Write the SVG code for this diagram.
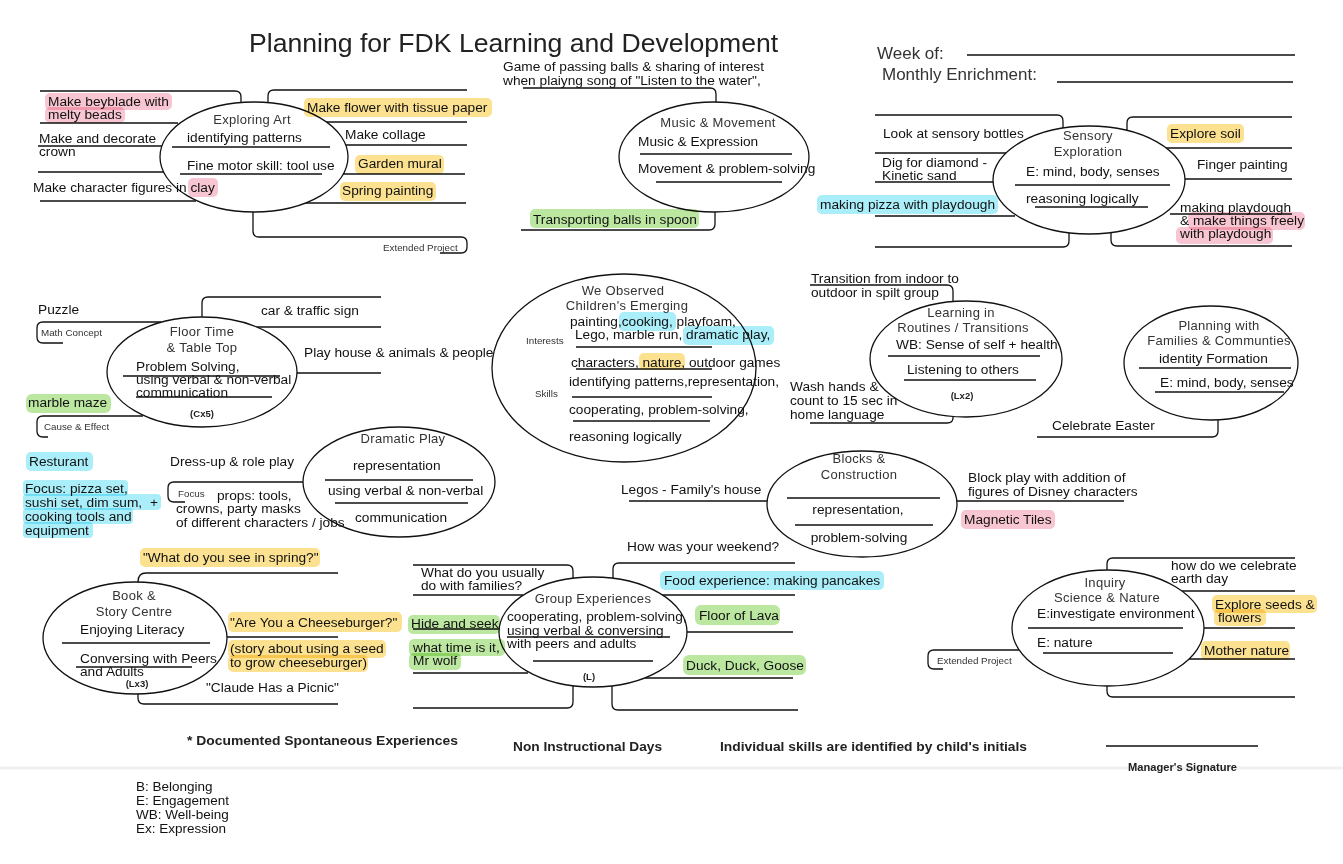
<svg xmlns="http://www.w3.org/2000/svg" width="1343" height="864" viewBox="0 0 1343 864">
<style>
text{font-family:"Liberation Sans",Arial,sans-serif}
.t{font-size:13.7px;fill:#111}
.h{font-size:13px;fill:#333;letter-spacing:0.3px;text-anchor:middle}
.s{font-size:9.8px;fill:#333}
.b{font-size:9.5px;font-weight:bold;fill:#222;text-anchor:middle}
.f{font-size:13px;font-weight:bold;fill:#222}
.c path,.ul{fill:none;stroke:#111;stroke-width:1.3}
.n ellipse{fill:#fff;stroke:#111;stroke-width:1.3}
.hp,.hy,.hb,.hg{mix-blend-mode:multiply}
.hp{fill:#f8c6d2}.hy{fill:#fbe190}.hb{fill:#aaeefa}.hg{fill:#bce7a0}
</style>
<rect width="1343" height="864" fill="#fff"/>

<g id="header">
<text x="249" y="52" style="font-size:26.6px;fill:#222">Planning for FDK Learning and Development</text>
<text x="877" y="59" style="font-size:17px;fill:#333">Week of:</text>
<text x="882" y="80" style="font-size:17px;fill:#333">Monthly Enrichment:</text>
<path class="ul" d="M967,55H1295M1057,82H1293"/>
</g>

<g id="connectors" class="c">
<path d="M40,91H235Q241,91 241,97V103"/>
<path d="M40,123H178M38,146H163M38,172H164M40,201H196"/>
<path d="M268,103V96Q268,90 274,90H467"/>
<path d="M326,122H467M346,145H467M343,174H465M305,203H466"/>
<path d="M253,212V231Q253,237 259,237H461Q467,237 467,243V247Q467,253 461,253H440"/>
<path d="M523,88H710Q716,88 716,94V102"/>
<path d="M715,212V224Q715,230 709,230H521"/>
<path d="M875,115H1057Q1063,115 1063,121V128"/>
<path d="M875,153H1006M875,182H993M875,216H1015"/>
<path d="M875,247H1063Q1069,247 1069,241V233"/>
<path d="M1127,130V123Q1127,117 1133,117H1292"/>
<path d="M1164,148H1292M1185,179H1292M1170,214H1292"/>
<path d="M1111,233V240Q1111,246 1117,246H1292"/>
<path d="M202,317V303Q202,297 208,297H381"/>
<path d="M254,327H381M297,373H381"/>
<path d="M161,322H43Q37,322 37,328V337Q37,343 43,343H63"/>
<path d="M143,416H43Q37,416 37,422V431Q37,437 43,437H48"/>
<path d="M305,482H174Q168,482 168,488V496Q168,502 174,502H185"/>
<path d="M810,285H947Q953,285 953,291V302"/>
<path d="M810,423H947Q953,423 953,418V416"/>
<path d="M1037,437H1212Q1218,437 1218,431V419"/>
<path d="M629,501H767M957,501H1124"/>
<path d="M413,565H567Q573,565 573,571V579"/>
<path d="M413,595H523M413,629H500M413,673H528"/>
<path d="M413,708H567Q573,708 573,702V686"/>
<path d="M613,579V569Q613,563 619,563H795"/>
<path d="M662,595H795M687,632H793M645,678H793"/>
<path d="M612,686V704Q612,710 618,710H798"/>
<path d="M138,582Q138,573 146,573H338"/>
<path d="M225,637H338"/>
<path d="M138,694V698Q138,704 144,704H338"/>
<path d="M1107,570V564Q1107,558 1113,558H1295"/>
<path d="M1180,591H1295M1203,628H1295M1189,659H1295"/>
<path d="M1107,686V691Q1107,697 1113,697H1295"/>
<path d="M1019,650H934Q928,650 928,656V663Q928,669 934,669H943"/>
</g>

<g id="node-exploring-art" class="n">
<ellipse cx="254" cy="157" rx="94" ry="55"/>
<text class="h" x="252" y="124">Exploring Art</text>
<text class="t" x="187" y="142">identifying patterns</text>
<path class="ul" d="M172,147H330"/>
<text class="t" x="187" y="170">Fine motor skill: tool use</text>
<path class="ul" d="M180,174H322"/>
<rect class="hp" x="45" y="93" width="127" height="17" rx="5"/>
<rect class="hp" x="45" y="107" width="80" height="16" rx="5"/>
<text class="t" x="48" y="106">Make beyblade with</text>
<text class="t" x="48" y="119">melty beads</text>
<text class="t" x="39" y="143">Make and decorate</text>
<text class="t" x="39" y="156">crown</text>
<rect class="hp" x="188" y="178" width="30" height="19" rx="5"/>
<text class="t" x="33" y="192">Make character figures in clay</text>
<rect class="hy" x="304" y="98" width="188" height="19" rx="5"/>
<text class="t" x="307" y="112">Make flower with tissue paper</text>
<text class="t" x="345" y="139">Make collage</text>
<rect class="hy" x="355" y="155" width="89" height="19" rx="5"/>
<text class="t" x="358" y="168">Garden mural</text>
<rect class="hy" x="340" y="182" width="96" height="19" rx="5"/>
<text class="t" x="342" y="195">Spring painting</text>
<text class="s" x="383" y="251">Extended Project</text>
</g>

<g id="node-music-movement" class="n">
<ellipse cx="714" cy="157" rx="95" ry="55"/>
<text class="h" x="718" y="127">Music &amp; Movement</text>
<text class="t" x="638" y="146">Music &amp; Expression</text>
<path class="ul" d="M640,154H792"/>
<text class="t" x="638" y="173">Movement &amp; problem-solving</text>
<path class="ul" d="M656,182H782"/>
<text class="t" x="503" y="71">Game of passing balls &amp; sharing of interest</text>
<text class="t" x="503" y="85">when plaiyng song of "Listen to the water",</text>
<rect class="hg" x="530" y="209" width="169" height="19" rx="5"/>
<text class="t" x="533" y="224">Transporting balls in spoon</text>
</g>

<g id="node-sensory" class="n">
<ellipse cx="1089" cy="180" rx="96" ry="54"/>
<text class="h" x="1088" y="140">Sensory</text>
<text class="h" x="1088" y="156">Exploration</text>
<text class="t" x="1026" y="176">E: mind, body, senses</text>
<path class="ul" d="M1015,185H1170"/>
<text class="t" x="1026" y="203">reasoning logically</text>
<path class="ul" d="M1035,207H1148"/>
<text class="t" x="883" y="138">Look at sensory bottles</text>
<text class="t" x="882" y="167">Dig for diamond -</text>
<text class="t" x="882" y="180">Kinetic sand</text>
<rect class="hb" x="817" y="195" width="181" height="19" rx="5"/>
<text class="t" x="820" y="209">making pizza with playdough</text>
<rect class="hy" x="1167" y="124" width="77" height="19" rx="5"/>
<text class="t" x="1170" y="138">Explore soil</text>
<text class="t" x="1197" y="169">Finger painting</text>
<rect class="hp" x="1188" y="212" width="117" height="18" rx="5"/>
<rect class="hp" x="1176" y="227" width="97" height="17" rx="5"/>
<text class="t" x="1180" y="212">making playdough</text>
<text class="t" x="1180" y="225">&amp; make things freely</text>
<text class="t" x="1180" y="238">with playdough</text>
</g>

<g id="node-floor-time" class="n">
<ellipse cx="202" cy="372" rx="95" ry="55"/>
<text class="h" x="202" y="336">Floor Time</text>
<text class="h" x="202" y="352">&amp; Table Top</text>
<text class="t" x="136" y="371">Problem Solving,</text>
<text class="t" x="136" y="384">using verbal &amp; non-verbal</text>
<text class="t" x="136" y="397">communication</text>
<path class="ul" d="M123,376H280M136,397H272"/>
<text class="b" x="202" y="417">(Cx5)</text>
<text class="t" x="261" y="315">car &amp; traffic sign</text>
<text class="t" x="304" y="357">Play house &amp; animals &amp; people</text>
<text class="t" x="38" y="314">Puzzle</text>
<text class="s" x="41" y="336">Math Concept</text>
<rect class="hg" x="26" y="394" width="85" height="19" rx="6"/>
<text class="t" x="28" y="407">marble maze</text>
<text class="s" x="44" y="430">Cause &amp; Effect</text>
</g>

<g id="node-dramatic-play" class="n">
<ellipse cx="399" cy="482" rx="96" ry="55"/>
<text class="h" x="403" y="443">Dramatic Play</text>
<text class="t" x="353" y="470">representation</text>
<path class="ul" d="M325,480H473"/>
<text class="t" x="328" y="495">using verbal &amp; non-verbal</text>
<path class="ul" d="M335,503H468"/>
<text class="t" x="355" y="522">communication</text>
<text class="t" x="170" y="466">Dress-up &amp; role play</text>
<text class="s" x="178" y="497">Focus</text>
<text class="t" x="217" y="500">props: tools,</text>
<text class="t" x="176" y="513">crowns, party masks</text>
<text class="t" x="176" y="527">of different characters / jobs</text>
<rect class="hb" x="26" y="452" width="67" height="19" rx="5"/>
<text class="t" x="29" y="466">Resturant</text>
<rect class="hb" x="23" y="480" width="105" height="16" rx="4"/>
<rect class="hb" x="23" y="494" width="138" height="16" rx="4"/>
<rect class="hb" x="23" y="508" width="110" height="16" rx="4"/>
<rect class="hb" x="23" y="522" width="70" height="16" rx="4"/>
<text class="t" x="25" y="493">Focus: pizza set,</text>
<text class="t" x="25" y="507">sushi set, dim sum,<tspan x="150">+</tspan></text>
<text class="t" x="25" y="521">cooking tools and</text>
<text class="t" x="25" y="535">equipment</text>
</g>

<g id="node-we-observed" class="n">
<ellipse cx="624" cy="368" rx="132" ry="94"/>
<text class="h" x="623" y="295">We Observed</text>
<text class="h" x="627" y="310">Children's Emerging</text>
<text class="s" x="526" y="344">Interests</text>
<text class="s" x="535" y="397">Skills</text>
<rect class="hb" x="619" y="312" width="57" height="19" rx="5"/>
<text class="t" x="570" y="326">painting,cooking, playfoam,</text>
<rect class="hb" x="683" y="326" width="91" height="19" rx="5"/>
<text class="t" x="575" y="339">Lego, marble run, dramatic play,</text>
<path class="ul" d="M576,347H712"/>
<rect class="hy" x="639" y="353" width="46" height="17" rx="5"/>
<text class="t" x="571" y="367">characters, nature, outdoor games</text>
<path class="ul" d="M576,369H712"/>
<text class="t" x="569" y="386">identifying patterns,representation,</text>
<path class="ul" d="M572,397H712"/>
<text class="t" x="569" y="414">cooperating, problem-solving,</text>
<path class="ul" d="M573,421H710"/>
<text class="t" x="569" y="441">reasoning logically</text>
</g>

<g id="node-routines" class="n">
<ellipse cx="966" cy="359" rx="96" ry="58"/>
<text class="h" x="961" y="317">Learning in</text>
<text class="h" x="963" y="332">Routines / Transitions</text>
<text class="t" x="896" y="349">WB: Sense of self + health</text>
<path class="ul" d="M888,356H1040"/>
<text class="t" x="907" y="374">Listening to others</text>
<path class="ul" d="M904,380H1036"/>
<text class="b" x="962" y="399">(Lx2)</text>
<text class="t" x="811" y="283">Transition from indoor to</text>
<text class="t" x="811" y="297">outdoor in spilt group</text>
<text class="t" x="790" y="391">Wash hands &amp;</text>
<text class="t" x="790" y="405">count to 15 sec in</text>
<text class="t" x="790" y="419">home language</text>
</g>

<g id="node-families" class="n">
<ellipse cx="1211" cy="363" rx="87" ry="57"/>
<text class="h" x="1219" y="330">Planning with</text>
<text class="h" x="1219" y="345">Families &amp; Communties</text>
<text class="t" x="1159" y="363">identity Formation</text>
<path class="ul" d="M1139,368H1291"/>
<text class="t" x="1160" y="387">E: mind, body, senses</text>
<path class="ul" d="M1155,392H1284"/>
<text class="t" x="1052" y="430">Celebrate Easter</text>
</g>

<g id="node-blocks" class="n">
<ellipse cx="862" cy="504" rx="95" ry="53"/>
<text class="h" x="859" y="463">Blocks &amp;</text>
<text class="h" x="859" y="479">Construction</text>
<path class="ul" d="M787,498H940"/>
<text class="t" x="858" y="514" text-anchor="middle">representation,</text>
<path class="ul" d="M795,525H933"/>
<text class="t" x="859" y="542" text-anchor="middle">problem-solving</text>
<text class="t" x="621" y="494">Legos - Family's house</text>
<text class="t" x="968" y="482">Block play with addition of</text>
<text class="t" x="968" y="496">figures of Disney characters</text>
<rect class="hp" x="961" y="510" width="94" height="19" rx="5"/>
<text class="t" x="964" y="524">Magnetic Tiles</text>
</g>

<g id="node-group-experiences" class="n">
<ellipse cx="593" cy="632" rx="94" ry="55"/>
<text class="h" x="593" y="603">Group Experiences</text>
<text class="t" x="507" y="621">cooperating, problem-solving,</text>
<text class="t" x="507" y="635">using verbal &amp; conversing</text>
<text class="t" x="507" y="648">with peers and adults</text>
<path class="ul" d="M507,637H670M533,661H653"/>
<text class="b" x="589" y="680">(L)</text>
<text class="t" x="421" y="577">What do you usually</text>
<text class="t" x="421" y="590">do with families?</text>
<rect class="hg" x="408" y="615" width="92" height="19" rx="5"/>
<text class="t" x="411" y="628">Hide and seek</text>
<rect class="hg" x="409" y="639" width="96" height="17" rx="5"/>
<rect class="hg" x="409" y="653" width="52" height="17" rx="5"/>
<text class="t" x="413" y="652">what time is it,</text>
<text class="t" x="413" y="665">Mr wolf</text>
<text class="t" x="627" y="551">How was your weekend?</text>
<rect class="hb" x="660" y="571" width="224" height="19" rx="5"/>
<text class="t" x="664" y="585">Food experience: making pancakes</text>
<rect class="hg" x="695" y="605" width="85" height="20" rx="6"/>
<text class="t" x="699" y="620">Floor of Lava</text>
<rect class="hg" x="683" y="655" width="123" height="20" rx="6"/>
<text class="t" x="686" y="670">Duck, Duck, Goose</text>
</g>

<g id="node-book-story" class="n">
<ellipse cx="135" cy="638" rx="92" ry="56"/>
<text class="h" x="134" y="600">Book &amp;</text>
<text class="h" x="134" y="616">Story Centre</text>
<text class="t" x="80" y="634">Enjoying Literacy</text>
<path class="ul" d="M62,643H210"/>
<text class="t" x="80" y="663">Conversing with Peers</text>
<text class="t" x="80" y="676">and Adults</text>
<path class="ul" d="M76,667H192"/>
<text class="b" x="137" y="687">(Lx3)</text>
<rect class="hy" x="140" y="548" width="180" height="19" rx="5"/>
<text class="t" x="143" y="562">"What do you see in spring?"</text>
<rect class="hy" x="228" y="612" width="174" height="20" rx="5"/>
<text class="t" x="230" y="627">"Are You a Cheeseburger?"</text>
<rect class="hy" x="228" y="640" width="158" height="18" rx="5"/>
<rect class="hy" x="228" y="655" width="140" height="17" rx="5"/>
<text class="t" x="230" y="653">(story about using a seed</text>
<text class="t" x="230" y="667">to grow cheeseburger)</text>
<text class="t" x="206" y="692">"Claude Has a Picnic"</text>
</g>

<g id="node-inquiry" class="n">
<ellipse cx="1108" cy="628" rx="96" ry="58"/>
<text class="h" x="1105" y="587">Inquiry</text>
<text class="h" x="1107" y="602">Science &amp; Nature</text>
<text class="t" x="1037" y="618">E:investigate environment</text>
<path class="ul" d="M1028,628H1183"/>
<text class="t" x="1037" y="647">E: nature</text>
<path class="ul" d="M1043,653H1173"/>
<text class="t" x="1171" y="570">how do we celebrate</text>
<text class="t" x="1171" y="583">earth day</text>
<rect class="hy" x="1212" y="595" width="105" height="18" rx="5"/>
<rect class="hy" x="1214" y="609" width="52" height="17" rx="5"/>
<text class="t" x="1215" y="609">Explore seeds &amp;</text>
<text class="t" x="1218" y="622">flowers</text>
<rect class="hy" x="1201" y="641" width="89" height="19" rx="5"/>
<text class="t" x="1204" y="655">Mother nature</text>
<text class="s" x="937" y="664">Extended Project</text>
</g>

<g id="footer">
<path d="M0,768H1343" stroke="#f0f0f0" stroke-width="3" fill="none"/>
<text class="f" x="187" y="745" textLength="271" lengthAdjust="spacingAndGlyphs">* Documented Spontaneous Experiences</text>
<text class="f" x="513" y="751" textLength="149" lengthAdjust="spacingAndGlyphs">Non Instructional Days</text>
<text class="f" x="720" y="751" textLength="307" lengthAdjust="spacingAndGlyphs">Individual skills are identified by child's initials</text>
<path class="ul" d="M1106,746H1258"/>
<text x="1128" y="771" style="font-size:10px;font-weight:bold;fill:#222" textLength="109" lengthAdjust="spacingAndGlyphs">Manager's Signature</text>
<text class="t" x="136" y="791" style="font-size:13.5px">B: Belonging</text>
<text class="t" x="136" y="805" style="font-size:13.5px">E: Engagement</text>
<text class="t" x="136" y="819" style="font-size:13.5px">WB: Well-being</text>
<text class="t" x="136" y="833" style="font-size:13.5px">Ex: Expression</text>
</g>
</svg>
